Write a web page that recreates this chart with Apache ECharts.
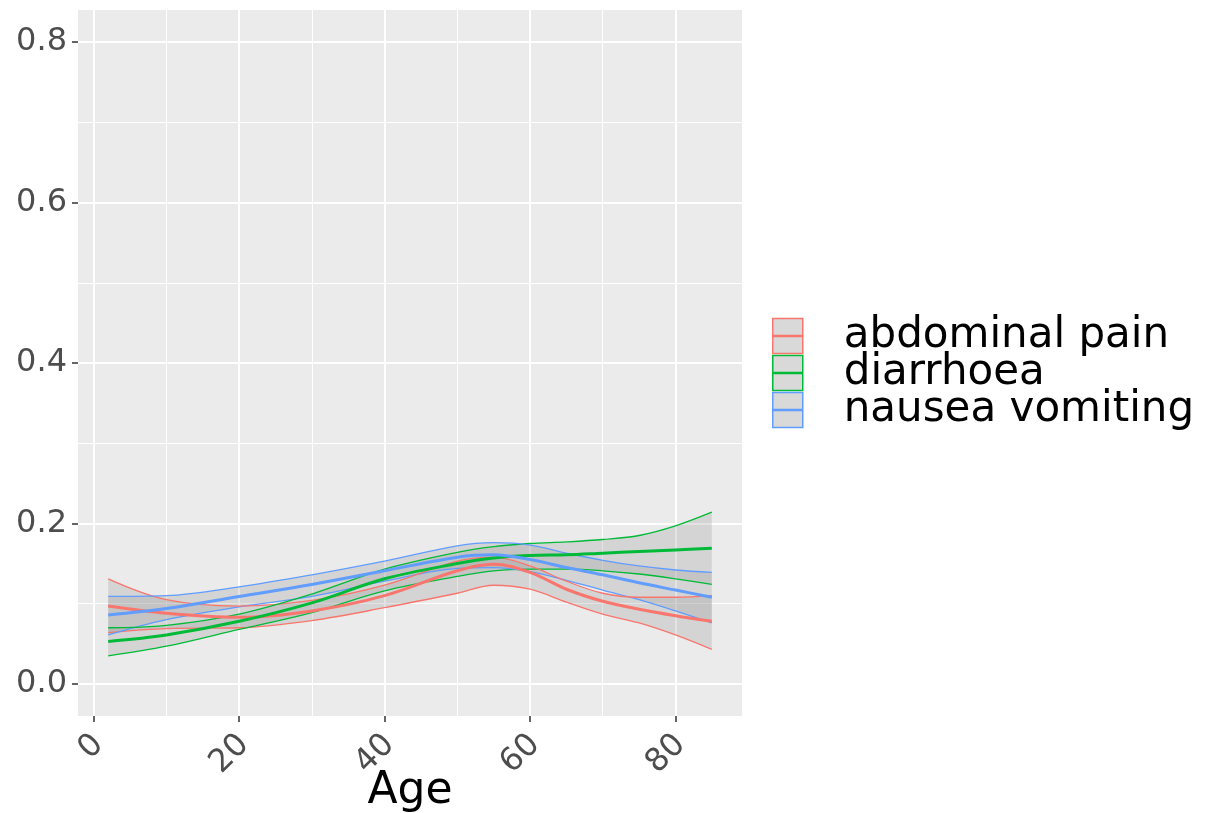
<!DOCTYPE html>
<html>
<head>
<meta charset="utf-8">
<script src="https://cdn.jsdelivr.net/npm/echarts@6/dist/echarts.min.js"></script>
<style>
  html, body { margin: 0; padding: 0; background: #ffffff; }
  #chart { width: 1217px; height: 813px; }
</style>
</head>
<body>
<div id="chart"></div>
<script>
// Smoothed symptom proportion by age, with confidence bands
const ages = [2, 10, 20, 30, 40, 50, 55, 60, 65, 70, 75, 80, 85];

const abdominalMean  = [0.097, 0.088, 0.083, 0.091, 0.110, 0.141, 0.149, 0.139, 0.118, 0.103, 0.093, 0.085, 0.078];
const abdominalUpper = [0.131, 0.105, 0.097, 0.104, 0.123, 0.153, 0.158, 0.147, 0.128, 0.113, 0.108, 0.108, 0.110];
const abdominalLower = [0.064, 0.069, 0.070, 0.079, 0.095, 0.113, 0.123, 0.118, 0.102, 0.087, 0.076, 0.061, 0.043];

const diarrhoeaMean  = [0.053, 0.061, 0.078, 0.101, 0.131, 0.150, 0.157, 0.160, 0.161, 0.163, 0.165, 0.167, 0.169];
const diarrhoeaUpper = [0.070, 0.073, 0.087, 0.112, 0.143, 0.164, 0.171, 0.175, 0.177, 0.180, 0.185, 0.197, 0.214];
const diarrhoeaLower = [0.035, 0.047, 0.068, 0.089, 0.116, 0.134, 0.141, 0.143, 0.143, 0.141, 0.137, 0.131, 0.124];

const nauseaMean  = [0.086, 0.094, 0.109, 0.124, 0.141, 0.158, 0.161, 0.155, 0.145, 0.136, 0.126, 0.117, 0.108];
const nauseaUpper = [0.109, 0.110, 0.121, 0.136, 0.153, 0.172, 0.176, 0.173, 0.163, 0.154, 0.147, 0.142, 0.139];
const nauseaLower = [0.061, 0.080, 0.096, 0.109, 0.128, 0.144, 0.145, 0.140, 0.129, 0.117, 0.105, 0.091, 0.076];

const groupNames = ['abdominal pain', 'diarrhoea', 'nausea vomiting'];
const groupColors = ['#F8766D', '#00BA38', '#619CFF'];

const xMajorTicks = [0, 20, 40, 60, 80];
const xMinorTicks = [10, 30, 50, 70];
const yMajorTicks = [0, 0.2, 0.4, 0.6, 0.8];
const yMinorTicks = [0.1, 0.3, 0.5, 0.7];

const groups = [
  { mean: abdominalMean, upper: abdominalUpper, lower: abdominalLower },
  { mean: diarrhoeaMean, upper: diarrhoeaUpper, lower: diarrhoeaLower },
  { mean: nauseaMean, upper: nauseaUpper, lower: nauseaLower }
];

const FONT = 'DejaVu Sans, Liberation Sans, sans-serif';
const SMOOTH = 0.35;

// [age, value] pairs for plain lines
const pairs = (ys) => ages.map((a, i) => [a, ys[i]]);
// [value, age] rows, so the value column is the one that gets stacked
const stackRows = (ys) => ages.map((a, i) => [ys[i], a]);

const bandSeries = [];
const lineSeries = [];
groups.forEach((g, k) => {
  const name = groupNames[k];
  const color = groupColors[k];
  const stackId = 'band' + k;
  // lower edge of the band, also the base of the stacked fill
  bandSeries.push({
    type: 'line', name, stack: stackId, data: stackRows(g.lower),
    encode: { x: 1, y: 0 }, smooth: SMOOTH,
    symbol: 'none', z: 3, lineStyle: { color, width: 1.3 }, silent: true
  });
  // band width stacked on the lower edge, filled grey
  bandSeries.push({
    type: 'line', name, stack: stackId,
    data: stackRows(g.upper.map((u, i) => +(u - g.lower[i]).toFixed(4))),
    encode: { x: 1, y: 0 }, smooth: SMOOTH, symbol: 'none', z: 1,
    lineStyle: { width: 0, opacity: 0 },
    areaStyle: { color: 'rgba(153,153,153,0.28)', opacity: 1 }, silent: true
  });
  // upper edge
  lineSeries.push({
    type: 'line', name, data: pairs(g.upper), smooth: SMOOTH,
    symbol: 'none', z: 3, lineStyle: { color, width: 1.3 }, silent: true
  });
  // fitted curve
  lineSeries.push({
    type: 'line', name, data: pairs(g.mean), smooth: SMOOTH,
    symbol: 'none', z: 4, lineStyle: { color, width: 3 }, silent: true
  });
});

const keyIcon = 'path://M0,0 H30 V35 H0 Z M1.5,17 H28.5 V18 H1.5 Z';
const legendTops = [315, 352, 389];

const legends = groupNames.map((n, k) => ({
  left: 772, top: legendTops[k], orient: 'vertical', padding: 0,
  itemWidth: 30, itemHeight: 35, selectedMode: false,
  textStyle: { fontFamily: FONT, fontSize: 42, color: '#000000', padding: [0, 0, 0, 36] },
  data: [{
    name: n, icon: keyIcon,
    itemStyle: { color: '#D9D9D9', borderColor: groupColors[k], borderWidth: 1.5 }
  }]
}));

const chart = echarts.init(document.getElementById('chart'), null, { renderer: 'canvas' });
chart.setOption({
  animation: false,
  backgroundColor: '#ffffff',
  grid: {
    left: 78, right: 475, top: 10, bottom: 97,
    show: true, backgroundColor: '#EBEBEB', borderWidth: 0,
    containLabel: false, outerBoundsMode: 'none'
  },
  legend: legends,
  xAxis: [
    {
      type: 'value', min: -2.15, max: 89.15,
      name: 'Age', nameLocation: 'middle', nameGap: 54, nameMoveOverlap: false,
      nameTextStyle: { fontFamily: FONT, fontSize: 44, color: '#000000' },
      axisLine: { show: false, onZero: false },
      axisTick: { show: true, length: 6, lineStyle: { color: '#333333', width: 1.5 }, customValues: xMajorTicks },
      axisLabel: {
        customValues: xMajorTicks, rotate: 45, margin: 6, verticalAlign: 'top',
        padding: [0, 9, 0, 0],
        fontFamily: FONT, fontSize: 32, color: '#4D4D4D'
      },
      splitLine: { show: true, lineStyle: { color: '#FFFFFF', width: 2 } }
    },
    {
      type: 'value', min: -2.15, max: 89.15, position: 'bottom',
      axisLine: { show: false, onZero: false },
      axisTick: { show: false, customValues: xMinorTicks },
      axisLabel: { show: false, customValues: xMinorTicks },
      splitLine: { show: true, lineStyle: { color: '#FFFFFF', width: 1 } }
    }
  ],
  yAxis: [
    {
      type: 'value', min: -0.04, max: 0.84,
      axisLine: { show: false, onZero: false },
      axisTick: { show: true, length: 6, lineStyle: { color: '#333333', width: 1.5 }, customValues: yMajorTicks },
      axisLabel: {
        customValues: yMajorTicks, margin: 11,
        formatter: (v) => v.toFixed(1),
        fontFamily: FONT, fontSize: 32, color: '#4D4D4D'
      },
      splitLine: { show: true, lineStyle: { color: '#FFFFFF', width: 2 } }
    },
    {
      type: 'value', min: -0.04, max: 0.84, position: 'left',
      axisLine: { show: false, onZero: false },
      axisTick: { show: false, customValues: yMinorTicks },
      axisLabel: { show: false, customValues: yMinorTicks },
      splitLine: { show: true, lineStyle: { color: '#FFFFFF', width: 1 } }
    }
  ],
  series: bandSeries.concat(lineSeries)
});
</script>
</body>
</html>
